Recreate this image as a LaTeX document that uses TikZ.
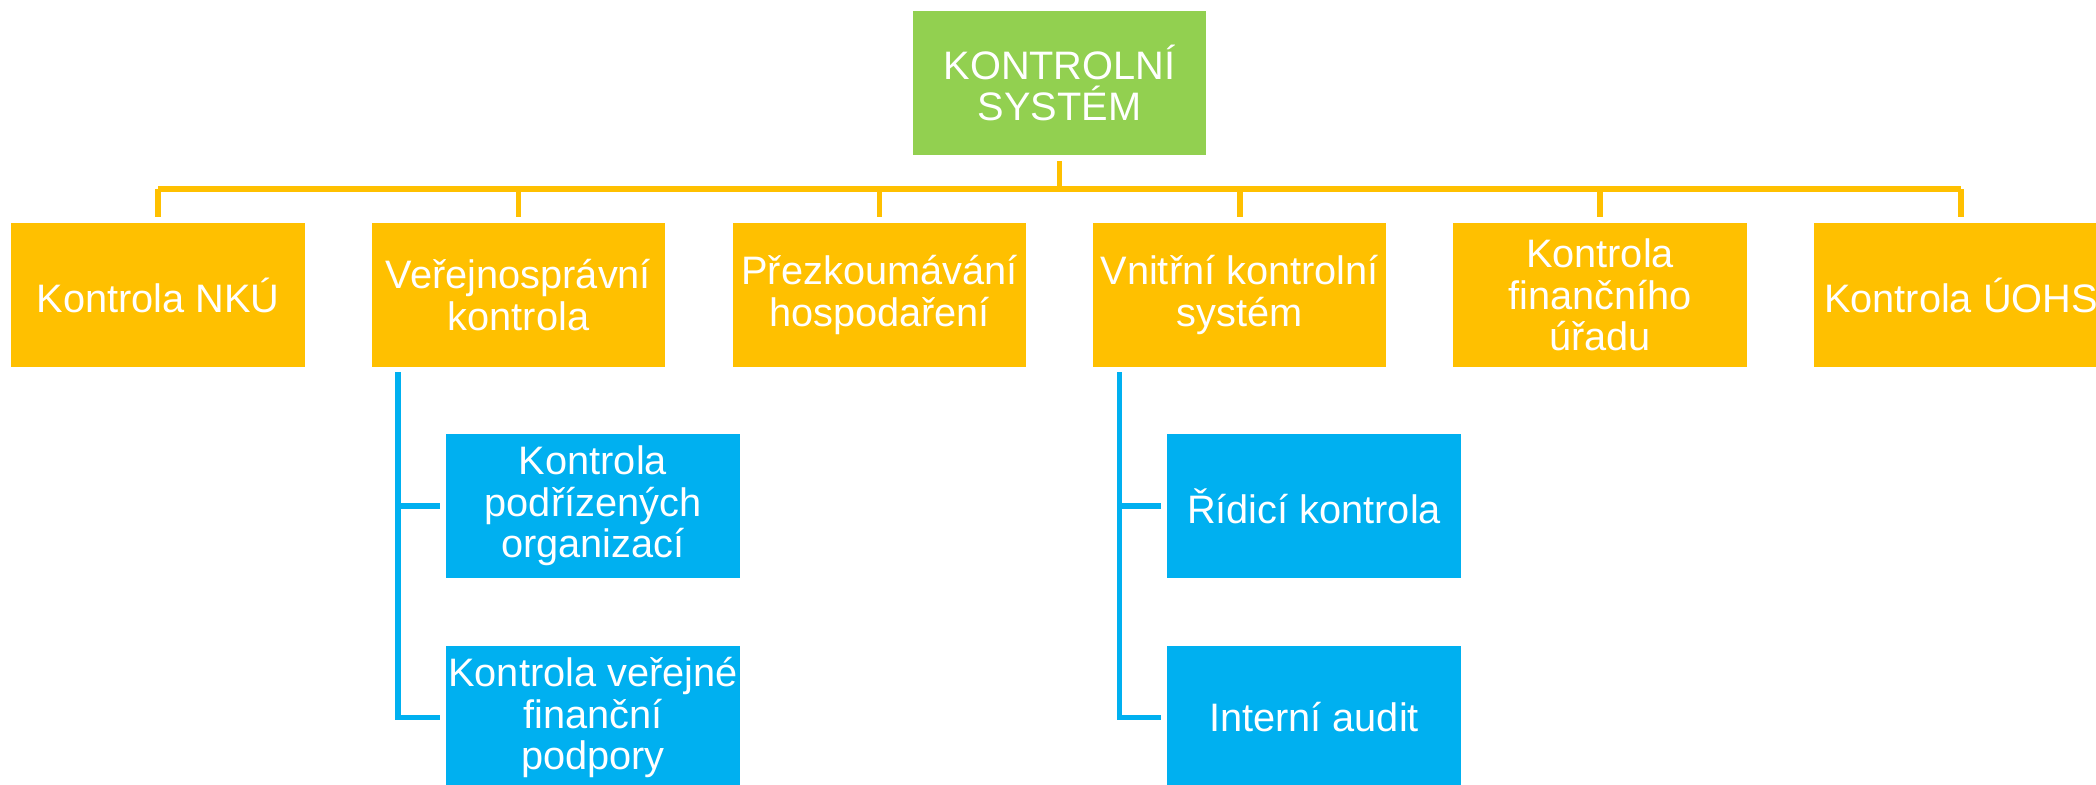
\documentclass[tikz,border=0pt]{standalone}
\usepackage{fontspec}
\setmainfont{Liberation Sans}
\usetikzlibrary{calc,positioning}
\definecolor{boxgreen}{HTML}{92D050}
\definecolor{boxorange}{HTML}{FFC000}
\definecolor{boxblue}{HTML}{00B0F0}

\begin{document}
\begin{tikzpicture}[x=0.01cm, y=-0.01cm,
    box/.style={rectangle, minimum width=2.93cm, minimum height=1.43cm, inner sep=0pt, align=center, text=white, font=\fontsize{11.3}{11.8}\selectfont},
    topbox/.style={box, fill=boxgreen},
    mainbox/.style={box, fill=boxorange},
    subbox/.style={box, fill=boxblue},
    orangeline/.style={draw=boxorange, line width=1.6pt},
    blueline/.style={draw=boxblue, line width=1.6pt}]

                \useasboundingbox (0, 0) rectangle (2096, 784);

                % Nodes
                \node[topbox] at (1059.5, 83) (ks) {KONTROLNÍ\\SYSTÉM};

                \node[mainbox] at (158, 295) (nku) {Kontrola NKÚ};
                \node[mainbox] at (518.5, 295) (vk) {Veřejnosprávní\\kontrola};
                \node[mainbox] at (879.5, 295) (ph) {Přezkoumávání\\hospodaření};
                \node[mainbox] at (1239.7, 295) (vks) {Vnitřní kontrolní\\systém};
                \node[mainbox] at (1600, 295) (kfu) {Kontrola\\finančního\\úřadu};
                \node[mainbox] at (1961, 295) (uohs) {Kontrola ÚOHS};

                \node[subbox] at (593, 506) (kpo) {Kontrola\\podřízených\\organizací};
                \node[subbox] at (593, 717.5) (kvfp) {Kontrola veřejné\\finanční\\podpory};
                \node[subbox] at (1314, 506) (rk) {Řídicí kontrola};
                \node[subbox] at (1314, 717.5) (ia) {Interní audit};

                \coordinate (bus) at (0, 189);

                % orange tree
                \draw[orangeline, shorten <=0.06cm] (ks.south) -- (ks.south |- bus);
                \draw[orangeline] (nku.north |- bus) -- (uohs.north |- bus);
                \foreach \n in {nku, vk, ph, vks, kfu, uohs}
                    \draw[orangeline, shorten >=0.06cm] (\n.north |- bus) -- (\n.north);

                % blue branches
                \draw[blueline, shorten <=0.05cm, shorten >=0.06cm] ([xshift=0.27cm]vk.south west) |- (kvfp.west);
                \draw[blueline, shorten <=0.05cm, shorten >=0.06cm] ([xshift=0.27cm]vk.south west) |- (kpo.west);
                \draw[blueline, shorten <=0.05cm, shorten >=0.06cm] ([xshift=0.27cm]vks.south west) |- (ia.west);
                \draw[blueline, shorten <=0.05cm, shorten >=0.06cm] ([xshift=0.27cm]vks.south west) |- (rk.west);

\end{tikzpicture}
\end{document}
